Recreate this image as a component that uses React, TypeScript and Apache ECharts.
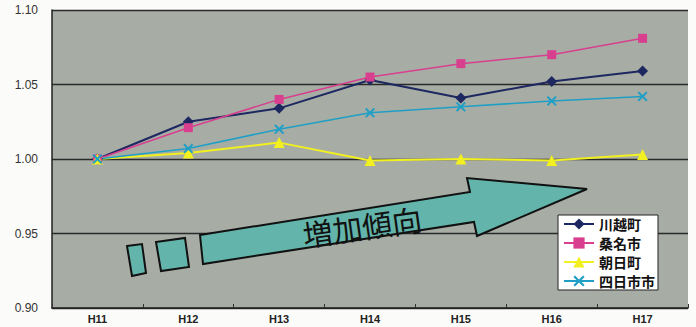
import React, { useEffect, useRef } from "react";
import * as echarts from "echarts";

const categories = ["H11", "H12", "H13", "H14", "H15", "H16", "H17"];
const yTicks = [0.9, 0.95, 1.0, 1.05, 1.1];
const seriesNames = ["川越町", "桑名市", "朝日町", "四日市市"];
const kawagoe = [1.0, 1.025, 1.034, 1.053, 1.041, 1.052, 1.059];
const kuwana = [1.0, 1.021, 1.04, 1.055, 1.064, 1.07, 1.081];
const asahi = [1.0, 1.004, 1.011, 0.999, 1.0, 0.999, 1.003];
const yokkaichi = [1.0, 1.007, 1.02, 1.031, 1.035, 1.039, 1.042];
const arrowLabel = "増加傾向";

const X_PATH =
  "path://M0,1.4 L1.4,0 L5,3.6 L8.6,0 L10,1.4 L6.4,5 L10,8.6 L8.6,10 L5,6.4 L1.4,10 L0,8.6 L3.6,5 Z";

export default function App() {
  const ref = useRef<HTMLDivElement>(null);
  useEffect(() => {
    document.body.style.margin = "0";
    const chart = echarts.init(ref.current!, null, { renderer: "svg" });
    const teal = "#63b4aa";
    const mk = (name: string, data: number[], color: string, symbol: string, size: number, width: number) => ({
      name,
      type: "line",
      data,
      symbol,
      symbolSize: size,
      showAllSymbol: true,
      lineStyle: { color, width },
      itemStyle: { color },
    });
    chart.setOption({
      animation: false,
      backgroundColor: "#fbfbf9",
      grid: {
        left: 52,
        right: 8,
        top: 10,
        bottom: 19,
        show: true,
        backgroundColor: "#a7ada5",
        borderWidth: 0,
        outerBoundsMode: "none",
        containLabel: false,
      },
      xAxis: {
        type: "category",
        data: categories,
        boundaryGap: true,
        axisLine: { lineStyle: { color: "#222", width: 1.5 } },
        axisTick: { show: true, inside: true, length: 4, lineStyle: { color: "#333" } },
        axisLabel: {
          margin: 5,
          color: "#222",
          fontSize: 11,
          fontWeight: "bold",
          fontFamily: "Liberation Sans, Arial, sans-serif",
        },
      },
      yAxis: {
        type: "value",
        min: yTicks[0],
        max: yTicks[yTicks.length - 1],
        interval: 0.05,
        axisLine: { show: true, lineStyle: { color: "#222", width: 1.5 } },
        axisTick: { show: false },
        splitLine: { show: true, lineStyle: { color: "#2a2a2a", width: 1.3 } },
        axisLabel: {
          margin: 14,
          color: "#333",
          fontSize: 12,
          fontFamily: "Liberation Sans, Arial, sans-serif",
          formatter: (v: number) => v.toFixed(2),
        },
      },
      legend: {
        orient: "vertical",
        left: 558,
        top: 215,
        backgroundColor: "#ffffff",
        borderColor: "#222",
        borderWidth: 1,
        padding: [2, 3, 2, 5],
        itemGap: 5,
        itemWidth: 30,
        itemHeight: 14,
        data: seriesNames,
        textStyle: {
          fontSize: 14,
          fontWeight: "bold",
          color: "#111",
          fontFamily: "Noto Sans CJK JP",
        },
      },
      graphic: [
        {
          type: "polygon",
          shape: { points: [[127, 246], [142, 244], [146, 273], [132, 276]] },
          style: { fill: teal, stroke: "#111", lineWidth: 2 },
          z: 10,
        },
        {
          type: "polygon",
          shape: { points: [[156, 242], [185, 238], [189, 267], [161, 271]] },
          style: { fill: teal, stroke: "#111", lineWidth: 2 },
          z: 10,
        },
        {
          type: "polygon",
          shape: {
            points: [
              [200, 235],
              [470, 192],
              [467, 178],
              [587, 189],
              [477, 236],
              [474, 222],
              [203, 264],
            ],
          },
          style: { fill: teal, stroke: "#111", lineWidth: 2 },
          z: 10,
        },
        {
          type: "text",
          x: 362,
          y: 226,
          rotation: 0.14,
          style: {
            text: arrowLabel,
            fontSize: 30,
            fontFamily: "Noto Sans CJK JP",
            fill: "#111",
            align: "center",
            verticalAlign: "middle",
          },
          z: 11,
        },
      ],
      series: [
        mk(seriesNames[0], kawagoe, "#1d2760", "diamond", 11, 2),
        mk(seriesNames[1], kuwana, "#d83f8e", "rect", 9, 1.5),
        mk(seriesNames[2], asahi, "#f2f020", "triangle", 11, 2),
        mk(seriesNames[3], yokkaichi, "#1f9fc6", X_PATH, 10, 1.5),
      ],
    });
    return () => chart.dispose();
  }, []);
  return (
    <div
      ref={ref}
      style={{ position: "absolute", left: 0, top: 0, width: 696, height: 327 }}
    />
  );
}
